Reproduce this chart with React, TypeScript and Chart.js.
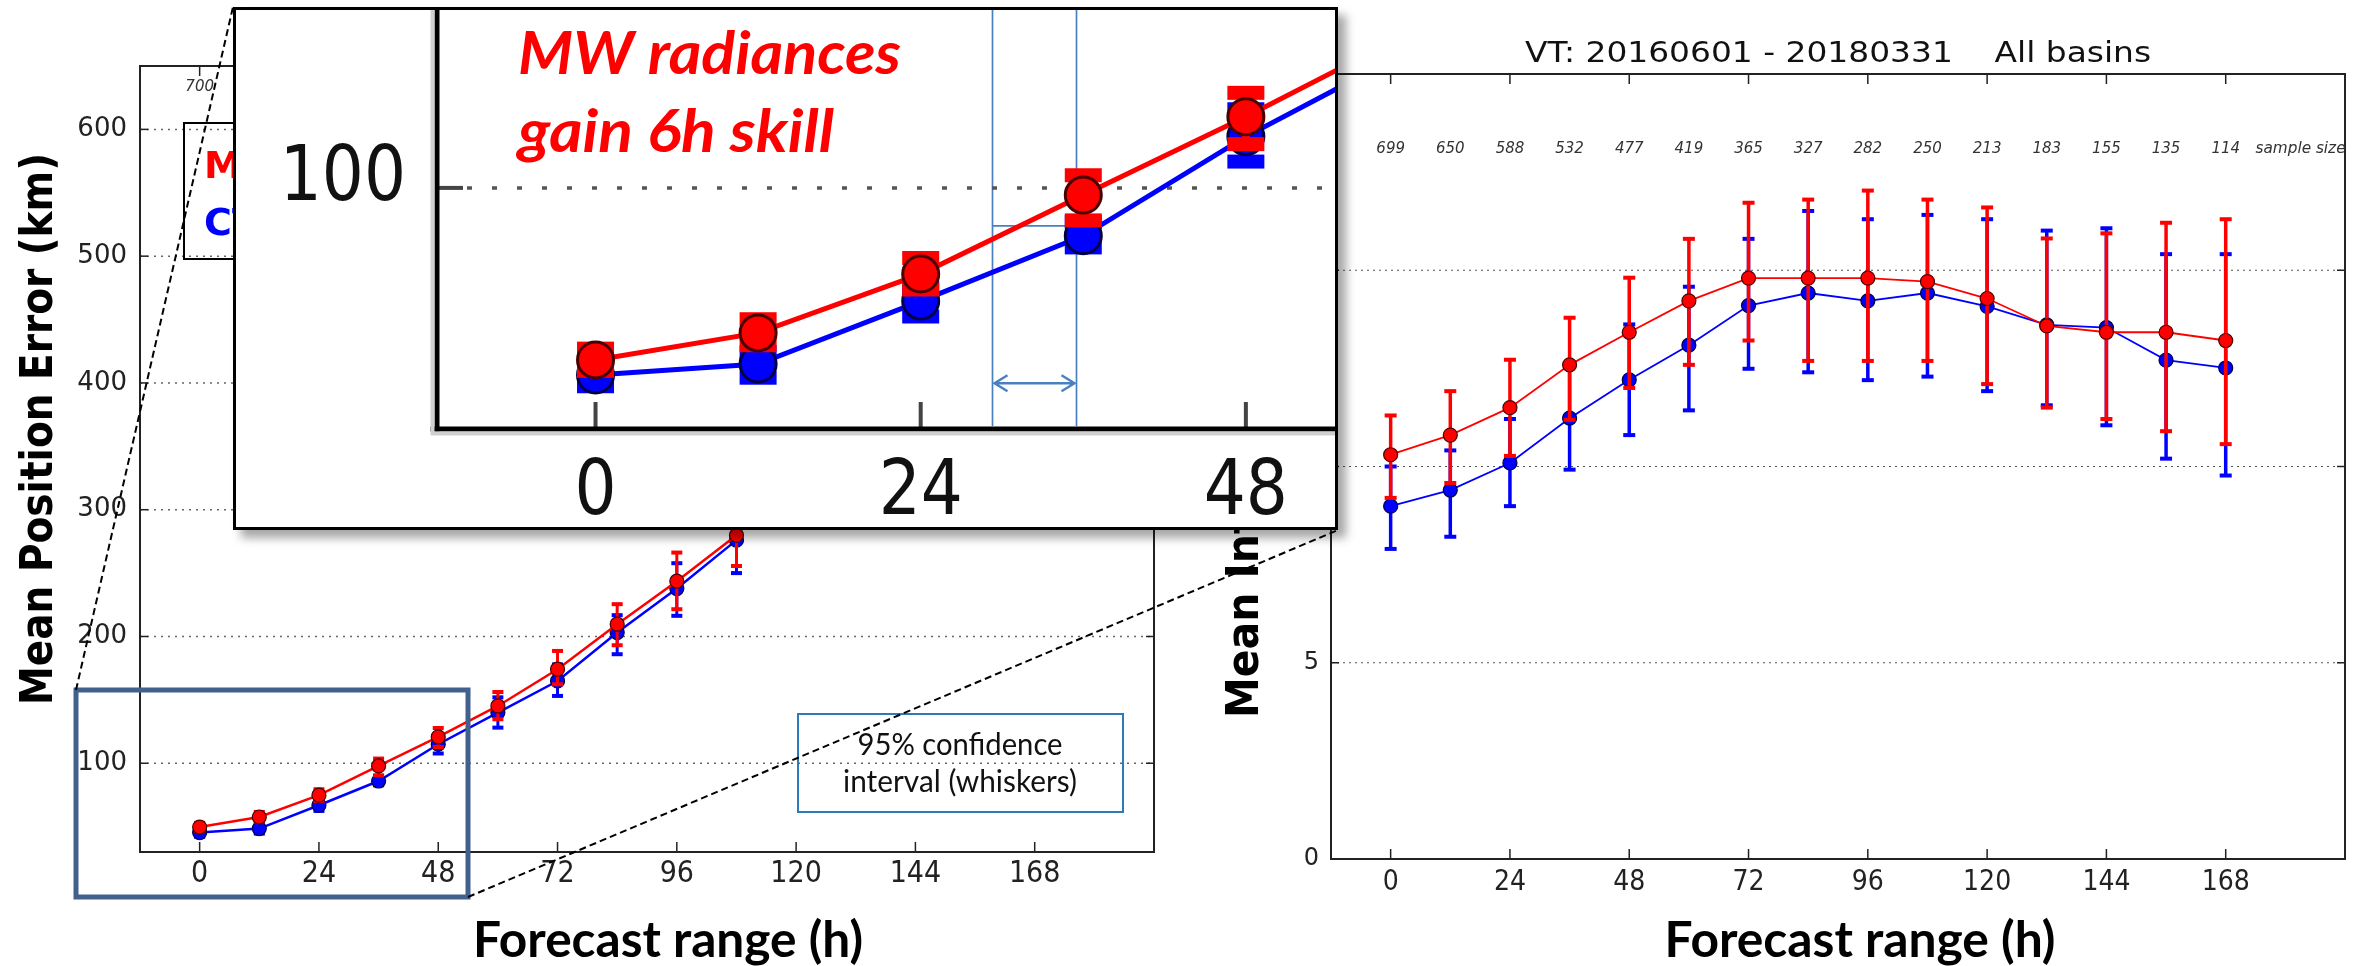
import React, { useEffect, useRef } from 'react';
import { Chart, registerables } from 'chart.js';

Chart.register(...registerables);

const FONT = 'DejaVu Sans';
const NARROW = "'Liberation Sans Narrow', 'DejaVu Sans Condensed', 'DejaVu Sans'";
Chart.defaults.font.family = FONT;

// ---------------- data ----------------
// Left panel: mean position error (km)
const POS_HOURS = [0, 12, 24, 36, 48, 60, 72, 84, 96, 108];
const POS_MW = [49.7, 57.6, 74.8, 97.9, 120.8, 145.2, 174.2, 209.7, 243.6, 279.9];
const POS_MW_LOW = [46.5, 54.0, 70.3, 90.5, 112.8, 134.7, 162.3, 193.1, 221.5, 255.6];
const POS_MW_HIGH = [53.0, 61.6, 79.5, 103.7, 127.8, 156.2, 188.6, 225.5, 266.2, 305.0];
const POS_CTRL = [45.3, 48.5, 66.9, 86.0, 115.0, 140.0, 164.9, 203.1, 237.8, 276.0];
const POS_CTRL_LOW = [42.0, 44.5, 62.4, 82.6, 107.7, 128.1, 153.1, 186.0, 216.3, 250.0];
const POS_CTRL_HIGH = [48.5, 52.0, 71.0, 90.0, 123.0, 152.0, 178.0, 216.8, 257.8, 300.0];
const POS_SAMPLE = ['700'];
const POS_Y_TICKS = [100, 200, 300, 400, 500, 600];

// Right panel: mean intensity error
const INT_HOURS = [0, 12, 24, 36, 48, 60, 72, 84, 96, 108, 120, 132, 144, 156, 168];
const INT_MW = [10.30, 10.80, 11.50, 12.59, 13.42, 14.22, 14.80, 14.80, 14.80, 14.71, 14.28, 13.58, 13.42, 13.42, 13.21];
const INT_MW_LOW = [9.20, 9.58, 10.27, 11.19, 12.00, 12.59, 13.21, 12.69, 12.69, 12.69, 12.10, 11.50, 11.21, 10.90, 10.57];
const INT_MW_HIGH = [11.30, 11.92, 12.72, 13.79, 14.81, 15.80, 16.72, 16.80, 17.03, 16.80, 16.60, 15.81, 15.94, 16.21, 16.30];
const INT_CTRL = [8.99, 9.40, 10.09, 11.23, 12.21, 13.09, 14.10, 14.42, 14.22, 14.42, 14.08, 13.61, 13.54, 12.71, 12.51];
const INT_CTRL_LOW = [7.90, 8.21, 8.99, 9.92, 10.80, 11.43, 12.49, 12.40, 12.20, 12.29, 11.92, 11.56, 11.05, 10.20, 9.77];
const INT_CTRL_HIGH = [10.00, 10.41, 11.21, 12.54, 13.62, 14.58, 15.80, 16.51, 16.30, 16.41, 16.30, 16.01, 16.07, 15.41, 15.41];
const INT_SAMPLE = ['699', '650', '588', '532', '477', '419', '365', '327', '282', '250', '213', '183', '155', '135', '114'];
const INT_Y_TICKS = [0, 5, 10, 15, 20];

const X_TICKS = [0, 24, 48, 72, 96, 120, 144, 168];
const INSET_X_TICKS = [0, 24, 48];
const INSET_Y_TICKS = [100];
const SERIES_LABELS = ['MW', 'CTRL'];

// inset annotation (6h skill gain)
const SKILL_FROM_H = 29.3;
const SKILL_TO_H = 35.5;
const SKILL_LEVEL_KM = 88.9;
const ARROW_LEVEL_KM = 42.9;

const RED = '#ff0000';
const BLUE = '#0000ff';
const RED_EDGE = '#4a0000';
const BLUE_EDGE = '#000044';

// ---------------- helpers ----------------
function pts(xs: number[], ys: number[]) {
  return xs.map((x, i) => ({ x, y: ys[i] }));
}

function series(label: string, xs: number[], ys: number[], lo: number[], hi: number[], color: string, edge: string, st: any) {
  return {
    label,
    data: pts(xs, ys),
    errLow: lo,
    errHigh: hi,
    borderColor: color,
    backgroundColor: color,
    borderWidth: st.line,
    pointRadius: st.r,
    pointHoverRadius: st.r,
    pointBackgroundColor: color,
    pointBorderColor: edge,
    pointBorderWidth: st.edge,
    tension: 0,
    fill: false,
  };
}

function scale(axis: 'x' | 'y', min: number, max: number, ticks: number[], size: number, fontSize: number, pad: number, color: string, family = FONT, showTicks = true) {
  return {
    type: 'linear',
    min,
    max,
    grid: { display: false, drawTicks: false },
    border: { display: false },
    ticks: { display: showTicks, autoSkip: false, maxRotation: 0, minRotation: 0, padding: pad, color, font: { family, size: fontSize } },
    afterBuildTicks: (s: any) => {
      s.ticks = ticks.map((v) => ({ value: v }));
    },
    afterFit: (s: any) => {
      if (axis === 'x') {
        s.height = size;
        s.paddingLeft = 0;
        s.paddingRight = 0;
      } else {
        s.width = size;
        s.paddingTop = 0;
        s.paddingBottom = 0;
      }
    },
  };
}

function errorBars(o: { lw: number; capW: number; capH: number }) {
  return {
    id: 'errorBars',
    beforeDatasetDraw(chart: any, args: any) {
      const ds = chart.data.datasets[args.index];
      if (!ds.errLow) return;
      const { ctx, chartArea: a } = chart;
      const ys = chart.scales.y;
      ctx.save();
      ctx.beginPath();
      ctx.rect(a.left, a.top, a.right - a.left, a.bottom - a.top);
      ctx.clip();
      ctx.strokeStyle = ds.borderColor;
      ctx.fillStyle = ds.borderColor;
      ctx.lineWidth = o.lw;
      args.meta.data.forEach((p: any, i: number) => {
        const y1 = ys.getPixelForValue(ds.errLow[i]);
        const y2 = ys.getPixelForValue(ds.errHigh[i]);
        ctx.beginPath();
        ctx.moveTo(p.x, y1);
        ctx.lineTo(p.x, y2);
        ctx.stroke();
        ctx.fillRect(p.x - o.capW / 2, y1 - o.capH / 2, o.capW, o.capH);
        ctx.fillRect(p.x - o.capW / 2, y2 - o.capH / 2, o.capW, o.capH);
      });
      ctx.restore();
    },
  };
}

function frame(o: any) {
  return {
    id: 'frame',
    beforeDatasetsDraw(chart: any) {
      const { ctx, chartArea: a } = chart;
      const ys = chart.scales.y;
      ctx.save();
      ctx.strokeStyle = o.gridColor;
      ctx.lineWidth = o.gridWidth;
      ctx.setLineDash(o.gridDash);
      ys.ticks.forEach((t: any) => {
        const py = ys.getPixelForValue(t.value);
        if (py < a.top + 2 || py > a.bottom - 2) return;
        ctx.beginPath();
        ctx.moveTo(a.left + (o.gridStart || 0), py);
        ctx.lineTo(a.right, py);
        ctx.stroke();
      });
      ctx.restore();
    },
    afterDatasetsDraw(chart: any) {
      const { ctx, chartArea: a } = chart;
      const xs = chart.scales.x;
      const ys = chart.scales.y;
      ctx.save();
      ctx.setLineDash([]);
      const seg = (x1: number, y1: number, x2: number, y2: number) => {
        ctx.beginPath();
        ctx.moveTo(x1, y1);
        ctx.lineTo(x2, y2);
        ctx.stroke();
      };
      ctx.strokeStyle = o.tickColor;
      ctx.lineWidth = o.tickWidth;
      xs.ticks.forEach((t: any) => {
        const px = xs.getPixelForValue(t.value);
        if (o.xTicks.includes('bottom')) seg(px, a.bottom, px, a.bottom - o.xTickLen);
        if (o.xTicks.includes('top')) seg(px, a.top, px, a.top + o.xTickLen);
      });
      ys.ticks.forEach((t: any) => {
        const py = ys.getPixelForValue(t.value);
        if (o.yTicks.includes('left')) seg(a.left, py, a.left + o.yTickLen, py);
        if (o.yTicks.includes('right')) seg(a.right, py, a.right - o.yTickLen, py);
      });
      ctx.strokeStyle = o.frameColor;
      ctx.lineWidth = o.frameWidth;
      const h = o.frameWidth / 2;
      if (o.sides.includes('top')) seg(a.left - h, a.top, a.right + h, a.top);
      if (o.sides.includes('bottom')) seg(a.left - h - (o.bottomExtend || 0), a.bottom, a.right + h, a.bottom);
      if (o.sides.includes('left')) seg(a.left, a.top, a.left, a.bottom + h);
      if (o.sides.includes('right')) seg(a.right, a.top - h, a.right, a.bottom + h);
      ctx.restore();
    },
  };
}

type TextItem = {
  text: string;
  x?: number;
  xv?: number;
  y: number;
  font: string;
  color: string;
  align?: CanvasTextAlign;
  baseline?: CanvasTextBaseline;
  rotate?: number;
  width?: number;
  sx?: number;
};

function drawTexts(ctx: CanvasRenderingContext2D, items: TextItem[], xScale?: any) {
  for (const it of items) {
    const x = it.xv !== undefined && xScale ? xScale.getPixelForValue(it.xv) : (it.x as number);
    ctx.save();
    ctx.font = it.font;
    ctx.fillStyle = it.color;
    ctx.textAlign = it.align || 'center';
    ctx.textBaseline = it.baseline || 'alphabetic';
    ctx.translate(x, it.y);
    if (it.rotate) ctx.rotate(it.rotate);
    let sx = it.sx || 1;
    if (it.width) sx = it.width / ctx.measureText(it.text).width;
    ctx.scale(sx, 1);
    ctx.fillText(it.text, 0, 0);
    ctx.restore();
  }
}

function texts(items: TextItem[]) {
  return {
    id: 'texts',
    afterDraw(chart: any) {
      drawTexts(chart.ctx, items, chart.scales.x);
    },
  };
}

const baseOptions = (padding: any) => ({
  responsive: false,
  maintainAspectRatio: false,
  animation: false,
  events: [],
  layout: { padding, autoPadding: false },
  plugins: { legend: { display: false }, tooltip: { enabled: false }, title: { display: false } },
});

// ---------------- chart configs ----------------
function leftConfig(): any {
  const st = { line: 2.5, r: 7, edge: 1.2 };
  return {
    type: 'line',
    data: {
      datasets: [
        series(SERIES_LABELS[0], POS_HOURS, POS_MW, POS_MW_LOW, POS_MW_HIGH, RED, RED_EDGE, st),
        series(SERIES_LABELS[1], POS_HOURS, POS_CTRL, POS_CTRL_LOW, POS_CTRL_HIGH, BLUE, BLUE_EDGE, st),
      ],
    },
    options: {
      ...baseOptions({ left: 40, right: 46, top: 66, bottom: 54 }),
      scales: {
        x: scale('x', -12, 192, X_TICKS, 60, 30, 4, '#222', NARROW),
        y: scale('y', 30, 650, POS_Y_TICKS, 100, 26, 13, '#222'),
      },
    },
    plugins: [
      errorBars({ lw: 3, capW: 11, capH: 4 }),
      frame({
        gridColor: '#666', gridWidth: 1.5, gridDash: [2, 5],
        tickColor: '#222', tickWidth: 1.5, xTickLen: 10, yTickLen: 8,
        xTicks: ['bottom', 'top'], yTicks: ['left', 'right'],
        frameColor: '#222', frameWidth: 2, sides: ['top', 'bottom', 'left', 'right'],
      }),
      {
        id: 'legendBox',
        afterDraw(chart: any) {
          const ctx = chart.ctx;
          const ds = chart.data.datasets;
          ctx.save();
          ctx.strokeStyle = '#000';
          ctx.lineWidth = 2;
          ctx.strokeRect(184, 123, 250, 136);
          ctx.font = `bold 38px ${FONT}`;
          ctx.textAlign = 'left';
          ctx.textBaseline = 'alphabetic';
          ctx.fillStyle = ds[0].borderColor;
          ctx.fillText(ds[0].label, 204, 178);
          ctx.fillStyle = ds[1].borderColor;
          ctx.fillText(ds[1].label, 204, 235);
          ctx.restore();
        },
      },
      texts([
        ...POS_SAMPLE.map((s, i) => ({ text: s, xv: POS_HOURS[i], y: 91, font: `italic 15px ${FONT}`, color: '#333' })),
        { text: 'Mean Position Error (km)', x: 52, y: 429, font: `bold 45px ${FONT}`, color: '#000', rotate: -Math.PI / 2, width: 552 },
        { text: 'Forecast range (h)', x: 668, y: 957, font: 'bold 50px Lato', color: '#000', width: 390 },
      ]),
    ],
  };
}

function rightConfig(): any {
  const st = { line: 1.8, r: 7, edge: 1.2 };
  return {
    type: 'line',
    data: {
      datasets: [
        series(SERIES_LABELS[0], INT_HOURS, INT_MW, INT_MW_LOW, INT_MW_HIGH, RED, RED_EDGE, st),
        series(SERIES_LABELS[1], INT_HOURS, INT_CTRL, INT_CTRL_LOW, INT_CTRL_HIGH, BLUE, BLUE_EDGE, st),
      ],
    },
    options: {
      ...baseOptions({ left: 51, right: 13, top: 74, bottom: 47 }),
      scales: {
        x: scale('x', -12, 192, X_TICKS, 60, 28, 7, '#222', NARROW),
        y: scale('y', 0, 20, INT_Y_TICKS, 100, 24, 12, '#222'),
      },
    },
    plugins: [
      errorBars({ lw: 3.5, capW: 12, capH: 4 }),
      frame({
        gridColor: '#555', gridWidth: 1.2, gridDash: [2, 4],
        tickColor: '#222', tickWidth: 1.5, xTickLen: 10, yTickLen: 8,
        xTicks: ['bottom', 'top'], yTicks: ['left', 'right'],
        frameColor: '#222', frameWidth: 2, sides: ['top', 'bottom', 'left', 'right'],
      }),
      texts([
        { text: 'VT: 20160601 - 20180331    All basins', x: 658, y: 62, font: `29px ${FONT}`, color: '#111', width: 626 },
        ...INT_SAMPLE.map((s, i) => ({ text: s, xv: INT_HOURS[i], y: 153, font: `italic 15px ${FONT}`, color: '#333' })),
        { text: 'sample size', xv: 174, y: 153, font: `italic 15px ${FONT}`, color: '#333', align: 'left' as CanvasTextAlign, width: 90 },
        { text: 'Mean Intensity Error (hPa)', x: 78, y: 718, font: `bold 45px ${FONT}`, color: '#000', rotate: -Math.PI / 2, align: 'left' as CanvasTextAlign, sx: 0.91 },
        { text: 'Forecast range (h)', x: 680, y: 957, font: 'bold 50px Lato', color: '#000', width: 391 },
      ]),
    ],
  };
}

function insetConfig(): any {
  const st = { line: 5, r: 18, edge: 3 };
  return {
    type: 'line',
    data: {
      datasets: [
        series(SERIES_LABELS[0], POS_HOURS, POS_MW, POS_MW_LOW, POS_MW_HIGH, RED, RED_EDGE, st),
        series(SERIES_LABELS[1], POS_HOURS, POS_CTRL, POS_CTRL_LOW, POS_CTRL_HIGH, BLUE, BLUE_EDGE, st),
      ],
    },
    options: {
      ...baseOptions({ left: 54, right: 0, top: 0, bottom: 21 }),
      scales: {
        x: scale('x', -11.7, 54.8, INSET_X_TICKS, 80, 66, 17, '#111', FONT, false),
        y: scale('y', 29.5, 152.9, INSET_Y_TICKS, 150, 66, 33, '#111', FONT, false),
      },
    },
    plugins: [
      {
        id: 'skill',
        beforeDatasetsDraw(chart: any) {
          const { ctx, chartArea: a } = chart;
          const xs = chart.scales.x;
          const ys = chart.scales.y;
          const x1 = xs.getPixelForValue(SKILL_FROM_H);
          const x2 = xs.getPixelForValue(SKILL_TO_H);
          const yl = ys.getPixelForValue(SKILL_LEVEL_KM);
          const ya = ys.getPixelForValue(ARROW_LEVEL_KM);
          ctx.save();
          ctx.strokeStyle = '#4a80bf';
          ctx.lineWidth = 1.7;
          ctx.beginPath();
          ctx.moveTo(x1, a.top + 2);
          ctx.lineTo(x1, a.bottom - 3);
          ctx.moveTo(x2, a.top + 2);
          ctx.lineTo(x2, a.bottom - 3);
          ctx.moveTo(x1, yl);
          ctx.lineTo(x2, yl);
          ctx.stroke();
          ctx.lineWidth = 2.4;
          ctx.beginPath();
          ctx.moveTo(x1 + 2, ya);
          ctx.lineTo(x2 - 2, ya);
          ctx.moveTo(x1 + 15, ya - 8);
          ctx.lineTo(x1 + 2, ya);
          ctx.lineTo(x1 + 15, ya + 8);
          ctx.moveTo(x2 - 15, ya - 8);
          ctx.lineTo(x2 - 2, ya);
          ctx.lineTo(x2 - 15, ya + 8);
          ctx.stroke();
          ctx.restore();
        },
      },
      errorBars({ lw: 8, capW: 37, capH: 14 }),
      frame({
        gridColor: '#555', gridWidth: 3.5, gridDash: [5, 20], gridStart: 30,
        tickColor: '#444', tickWidth: 4, xTickLen: 27, yTickLen: 26,
        xTicks: ['bottom'], yTicks: ['left'],
        frameColor: '#000', frameWidth: 5, sides: ['bottom', 'left'], bottomExtend: 4,
      }),
      {
        id: 'insetLabels',
        afterDraw(chart: any) {
          const { ctx, chartArea: a, width, height } = chart;
          const xs = chart.scales.x;
          const ys = chart.scales.y;
          ctx.save();
          ctx.fillStyle = '#cfcfcf';
          ctx.fillRect(a.left - 6, a.bottom + 2.5, a.right - a.left + 6, 4);
          ctx.fillRect(a.left - 6.5, a.top, 4, a.bottom - a.top + 6);
          ctx.strokeStyle = '#000';
          ctx.lineWidth = 3;
          ctx.strokeRect(1.5, 1.5, width - 3, height - 3);
          ctx.restore();
          drawTexts(
            ctx,
            xs.ticks.map((t: any) => ({ text: String(t.value), xv: t.value, y: 507, font: `76px ${FONT}`, color: '#111', sx: 0.87 })),
            xs,
          );
          drawTexts(
            ctx,
            ys.ticks.map((t: any) => ({
              text: String(t.value), x: 173, y: ys.getPixelForValue(t.value) + 12, font: `76px ${FONT}`, color: '#111', align: 'right' as CanvasTextAlign, sx: 0.87,
            })),
          );
        },
      },
      texts([
        { text: 'MW radiances', x: 285, y: 67, font: 'italic bold 60px Lato', color: '#ff0000', align: 'left' as CanvasTextAlign, width: 383 },
        { text: 'gain 6h skill', x: 285, y: 145, font: 'italic bold 60px Lato', color: '#ff0000', align: 'left' as CanvasTextAlign, width: 316 },
      ]),
    ],
  };
}

function drawOverlay(cv: HTMLCanvasElement) {
  const ctx = cv.getContext('2d');
  if (!ctx) return;
  ctx.clearRect(0, 0, cv.width, cv.height);
  // 95% confidence note
  ctx.save();
  ctx.strokeStyle = '#2b7bba';
  ctx.lineWidth = 2;
  ctx.strokeRect(798, 714, 325, 98);
  ctx.restore();
  drawTexts(ctx, [
    { text: '95% confidence', x: 960, y: 755, font: '31px Lato', color: '#111', width: 205 },
    { text: 'interval (whiskers)', x: 960, y: 792, font: '31px Lato', color: '#111', width: 234 },
  ]);
  // zoom region box
  ctx.save();
  ctx.strokeStyle = '#41608c';
  ctx.lineWidth = 5;
  ctx.strokeRect(76, 690, 392, 207);
  // connector dashed lines
  ctx.strokeStyle = '#000';
  ctx.lineWidth = 2;
  ctx.setLineDash([7, 4]);
  ctx.beginPath();
  ctx.moveTo(76, 690);
  ctx.lineTo(233, 7);
  ctx.moveTo(468, 897);
  ctx.lineTo(1338, 530);
  ctx.stroke();
  ctx.restore();
}

export default function App() {
  const leftRef = useRef<HTMLCanvasElement>(null);
  const rightRef = useRef<HTMLCanvasElement>(null);
  const insetRef = useRef<HTMLCanvasElement>(null);
  const overlayRef = useRef<HTMLCanvasElement>(null);

  useEffect(() => {
    const charts: Chart[] = [];
    if (leftRef.current) charts.push(new Chart(leftRef.current, leftConfig()));
    if (rightRef.current) charts.push(new Chart(rightRef.current, rightConfig()));
    if (insetRef.current) charts.push(new Chart(insetRef.current, insetConfig()));
    if (overlayRef.current) drawOverlay(overlayRef.current);
    return () => {
      charts.forEach((c) => c.destroy());
    };
  }, []);

  return (
    <div style={{ position: 'fixed', left: 0, top: 0, width: 2358, height: 966, background: '#fff', overflow: 'hidden' }}>
      <canvas ref={leftRef} width={1200} height={966} style={{ position: 'absolute', left: 0, top: 0, width: 1200, height: 966 }} />
      <canvas ref={rightRef} width={1178} height={966} style={{ position: 'absolute', left: 1180, top: 0, width: 1178, height: 966 }} />
      <canvas ref={overlayRef} width={2358} height={966} style={{ position: 'absolute', left: 0, top: 0, width: 2358, height: 966, pointerEvents: 'none' }} />
      <canvas
        ref={insetRef}
        width={1105}
        height={523}
        style={{ position: 'absolute', left: 233, top: 7, width: 1105, height: 523, background: '#fff', boxShadow: '8px 8px 9px rgba(0,0,0,0.35)' }}
      />
    </div>
  );
}
